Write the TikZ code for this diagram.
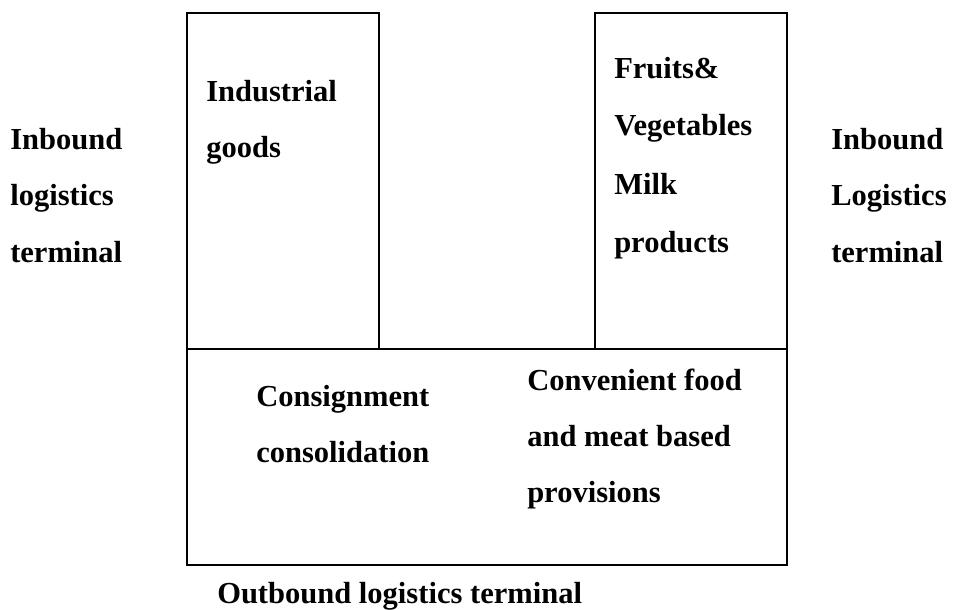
\documentclass[tikz,border=0pt]{standalone}
\usepackage{fontspec}
\setmainfont{Liberation Serif}
\begin{document}
\begin{tikzpicture}[x=0.75pt,y=-0.75pt,
  lbl/.style={inner sep=0pt,anchor=base west,font=\fontsize{22.9}{27}\selectfont\bfseries},
  boxline/.style={draw=black,line width=1.5pt}]
\useasboundingbox (0,0) rectangle (968,610);
% boxes
\draw[boxline] (187,13) rectangle (379,349);
\draw[boxline] (595,13) rectangle (787,349);
\draw[boxline] (187,349) rectangle (787,565);
% left labels
\node[lbl] (l1) at (10,150) {Inbound};
\node[lbl] (l2) at (10,205) {logistics};
\node[lbl] (l3) at (10,262) {terminal};
% right labels
\node[lbl] (r1) at (831,150) {Inbound};
\node[lbl] (r2) at (831,205) {Logistics};
\node[lbl] (r3) at (831,262) {terminal};
% left box
\node[lbl] (i1) at (206,102) {Industrial};
\node[lbl] (i2) at (206,157) {goods};
% right box
\node[lbl] (f1) at (614,79) {Fruits\&};
\node[lbl] (f2) at (614,136) {Vegetables};
\node[lbl] (f3) at (614,194) {Milk};
\node[lbl] (f4) at (614,252) {products};
% bottom box
\node[lbl] (c1) at (256,406) {Consignment};
\node[lbl] (c2) at (256,462) {consolidation};
\node[lbl] (v1) at (527,390) {Convenient food};
\node[lbl] (v2) at (527,446) {and meat based};
\node[lbl] (v3) at (527,502) {provisions};
% bottom label
\node[lbl] (o1) at (217,603) {Outbound logistics terminal};
\end{tikzpicture}
\end{document}
